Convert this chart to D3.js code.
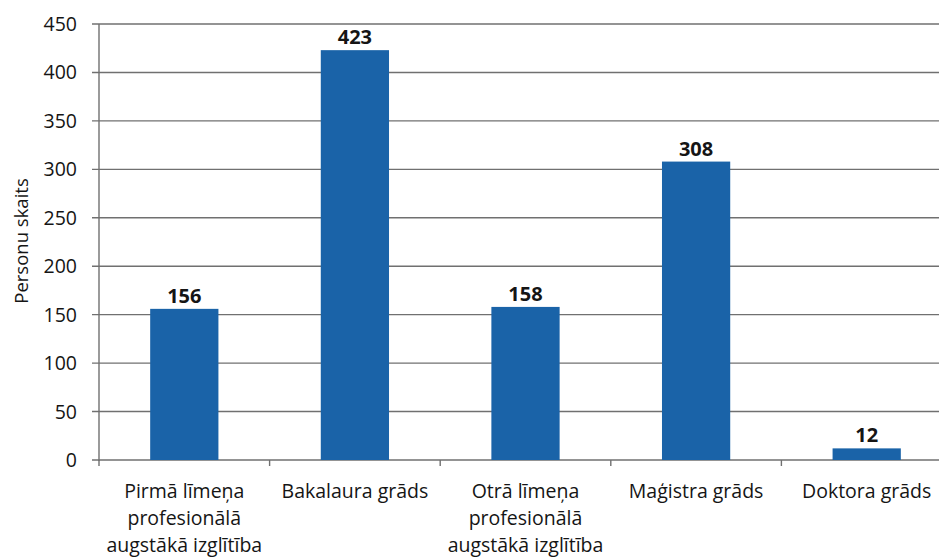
<!DOCTYPE html>
<html>
<head>
<meta charset="utf-8">
<script src="https://cdn.jsdelivr.net/npm/d3@7"></script>
<style>
  body { margin: 0; background: #fff; }
  text { font-family: "Open Sans", "Noto Sans", sans-serif; fill: #151515; }
</style>
</head>
<body>
<script>
const width  = 939;
const height = 557;

// data
const categories = [
  ['Pirmā līmeņa', 'profesionālā', 'augstākā izglītība'],
  ['Bakalaura grāds'],
  ['Otrā līmeņa', 'profesionālā', 'augstākā izglītība'],
  ['Maģistra grāds'],
  ['Doktora grāds']
];
const values    = [156, 423, 158, 308, 12];
const yTicks    = [0, 50, 100, 150, 200, 250, 300, 350, 400, 450];
const yTitle    = 'Personu skaits';

const plotLeft = 99, plotRight = 952, plotTop = 24, plotBottom = 460;

const svg = d3.select('body').append('svg')
  .attr('width', width)
  .attr('height', height);

const x = d3.scaleBand()
  .domain(d3.range(values.length))
  .range([plotLeft, plotRight])
  .paddingInner(0.6)
  .paddingOuter(0.3);

const y = d3.scaleLinear()
  .domain([0, 450])
  .range([plotBottom, plotTop]);

const step = x.step();

// gridlines
svg.append('g')
  .selectAll('line')
  .data(yTicks)
  .enter().append('line')
  .attr('x1', plotLeft - 7)
  .attr('x2', width)
  .attr('y1', d => y(d))
  .attr('y2', d => y(d))
  .attr('stroke', '#707070')
  .attr('stroke-width', 1.4);

// y axis line
svg.append('line')
  .attr('x1', plotLeft).attr('x2', plotLeft)
  .attr('y1', plotTop).attr('y2', plotBottom + 1)
  .attr('stroke', '#707070')
  .attr('stroke-width', 1.4);

// y tick labels
svg.append('g')
  .selectAll('text')
  .data(yTicks)
  .enter().append('text')
  .attr('x', 77)
  .attr('y', d => y(d))
  .attr('dy', '0.36em')
  .attr('text-anchor', 'end')
  .style('font-size', '19.5px')
  .text(d => d);

// x category ticks
svg.append('g')
  .selectAll('line')
  .data(d3.range(values.length + 1))
  .enter().append('line')
  .attr('x1', i => plotLeft + i * step)
  .attr('x2', i => plotLeft + i * step)
  .attr('y1', plotBottom)
  .attr('y2', plotBottom + 6)
  .attr('stroke', '#707070')
  .attr('stroke-width', 1.4);

// bars
svg.append('g')
  .selectAll('rect')
  .data(values)
  .enter().append('rect')
  .attr('x', (d, i) => x(i))
  .attr('width', x.bandwidth())
  .attr('y', d => y(d))
  .attr('height', d => plotBottom - y(d))
  .attr('fill', '#1a63a8');

// value labels
svg.append('g')
  .selectAll('text')
  .data(values)
  .enter().append('text')
  .attr('x', (d, i) => x(i) + x.bandwidth() / 2)
  .attr('y', d => y(d) - 6)
  .attr('text-anchor', 'middle')
  .style('font-size', '20px')
  .style('font-weight', 'bold')
  .text(d => d);

// category labels
const cat = svg.append('g')
  .selectAll('text')
  .data(categories)
  .enter().append('text')
  .attr('x', (d, i) => x(i) + x.bandwidth() / 2)
  .attr('y', 498)
  .attr('text-anchor', 'middle')
  .style('font-size', '19.5px');

cat.selectAll('tspan')
  .data(d => d)
  .enter().append('tspan')
  .attr('x', function() { return d3.select(this.parentNode).attr('x'); })
  .attr('dy', (d, i) => i === 0 ? 0 : 27)
  .text(d => d);

// y title
svg.append('text')
  .attr('transform', 'translate(28,' + 241 + ') rotate(-90)')
  .attr('text-anchor', 'middle')
  .style('font-size', '18.5px')
  .text(yTitle);
</script>
</body>
</html>
